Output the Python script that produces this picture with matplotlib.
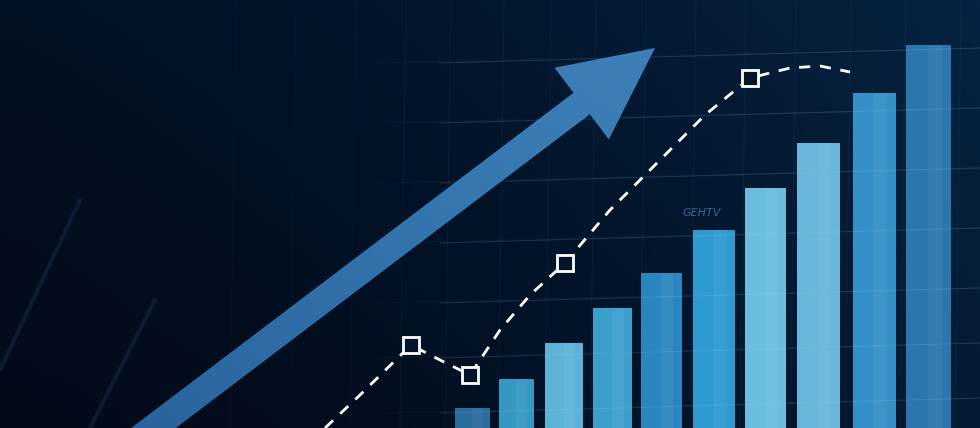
import numpy as np
import matplotlib
matplotlib.use("Agg")
import matplotlib.pyplot as plt
from matplotlib.patches import FancyArrow
from matplotlib.colors import LinearSegmentedColormap

# bars (x centre in canvas units, height)
bar_x = [472, 516, 564, 612, 661, 714, 765, 818, 874, 928]
bar_w = [35, 35, 38, 39, 41, 42, 41, 43, 43, 45]
bar_values = [20, 49, 85, 120, 155, 198, 240, 285, 335, 383]
bar_colors = ["#2a6c9c", "#3597c4", "#5cb3d8", "#3a9fcd", "#2a86c0",
              "#2f9ad0", "#6bbde0", "#69b6da", "#3590c8", "#2a76ad"]

# dashed trend line
line_x = [325, 360, 411, 440, 470, 500, 530, 565, 610, 660, 705, 750, 790, 820, 850]
line_y = [0, 33, 83, 68, 53, 98, 133, 165, 218, 268, 313, 350, 360, 362, 356]
marker_x = [411, 470, 565, 750]
marker_y = [83, 53, 165, 350]

# big arrow: start and tip
arrow_start = (135, -14)
arrow_tip = (655, 380)

fig = plt.figure(figsize=(9.8, 4.28), dpi=100)
ax = fig.add_axes([0, 0, 1, 1])
ax.set_xlim(0, 980)
ax.set_ylim(0, 428)
ax.axis("off")

# background
bg = LinearSegmentedColormap.from_list("bg", ["#020a18", "#03152b", "#062341"])
gx, gy = np.meshgrid(np.linspace(0, 1, 200), np.linspace(0, 1, 100))
ax.imshow(0.7 * gx ** 1.3 + 0.3 * (1 - gy), cmap=bg, extent=[0, 980, 0, 428],
          aspect="auto", origin="upper", zorder=0)

# faint grid
for xv in [230, 290, 350, 400, 445, 498, 545, 590, 640, 690, 740, 790, 845, 900, 955]:
    a = 0.04 if xv < 400 else 0.08
    ax.plot([xv, xv + 6], [0, 428], color="#4a7fb0", lw=0.8, alpha=a, zorder=1)
for yv in [20, 75, 130, 190, 250, 310, 370]:
    ax.plot([380, 980], [yv - 5, yv + 10], color="#4a7fb0", lw=0.8, alpha=0.07, zorder=1)

# light streaks on the left
ax.plot([0, 80], [58, 228], color="#1d4f7c", lw=3, alpha=0.25, solid_capstyle="round", zorder=1)
ax.plot([90, 155], [0, 128], color="#1d4f7c", lw=3, alpha=0.25, solid_capstyle="round", zorder=1)

# bars
for x, w, v, c in zip(bar_x, bar_w, bar_values, bar_colors):
    ax.bar(x, v, width=w, color=c, zorder=3)
    ax.bar(x + w * 0.15, v, width=w * 0.3, color="white", alpha=0.05, zorder=3)
for yv in [20, 75, 130, 190, 250, 310, 370]:
    ax.plot([440, 980], [yv - 5, yv + 10], color="#a8d8f0", lw=0.8, alpha=0.14, zorder=4)

# arrow with gradient
dx = arrow_tip[0] - arrow_start[0]
dy = arrow_tip[1] - arrow_start[1]
arr = FancyArrow(arrow_start[0], arrow_start[1], dx, dy, width=27, head_width=90,
                 head_length=92, length_includes_head=True, color="none", zorder=5)
ax.add_patch(arr)
am = LinearSegmentedColormap.from_list("arr", ["#28609a", "#3677b0", "#4888c2"])
grad = ax.imshow(gx * 0.6 + (1 - gy) * 0.4, cmap=am, extent=[0, 980, 0, 428],
                 aspect="auto", origin="upper", zorder=5)
grad.set_clip_path(arr)

# dashed line + markers
ax.plot(line_x, line_y, color="white", lw=2, ls=(0, (4, 3.5)), zorder=6)
ax.plot(marker_x, marker_y, ls="none", marker="s", ms=11, mfc="#04142a",
        mec="white", mew=2, zorder=7)

ax.text(682, 212, "GEHTV", color="#3f86c0", fontsize=8, style="italic",
        alpha=0.75, zorder=4)

fig.savefig("out.png", dpi=100)
